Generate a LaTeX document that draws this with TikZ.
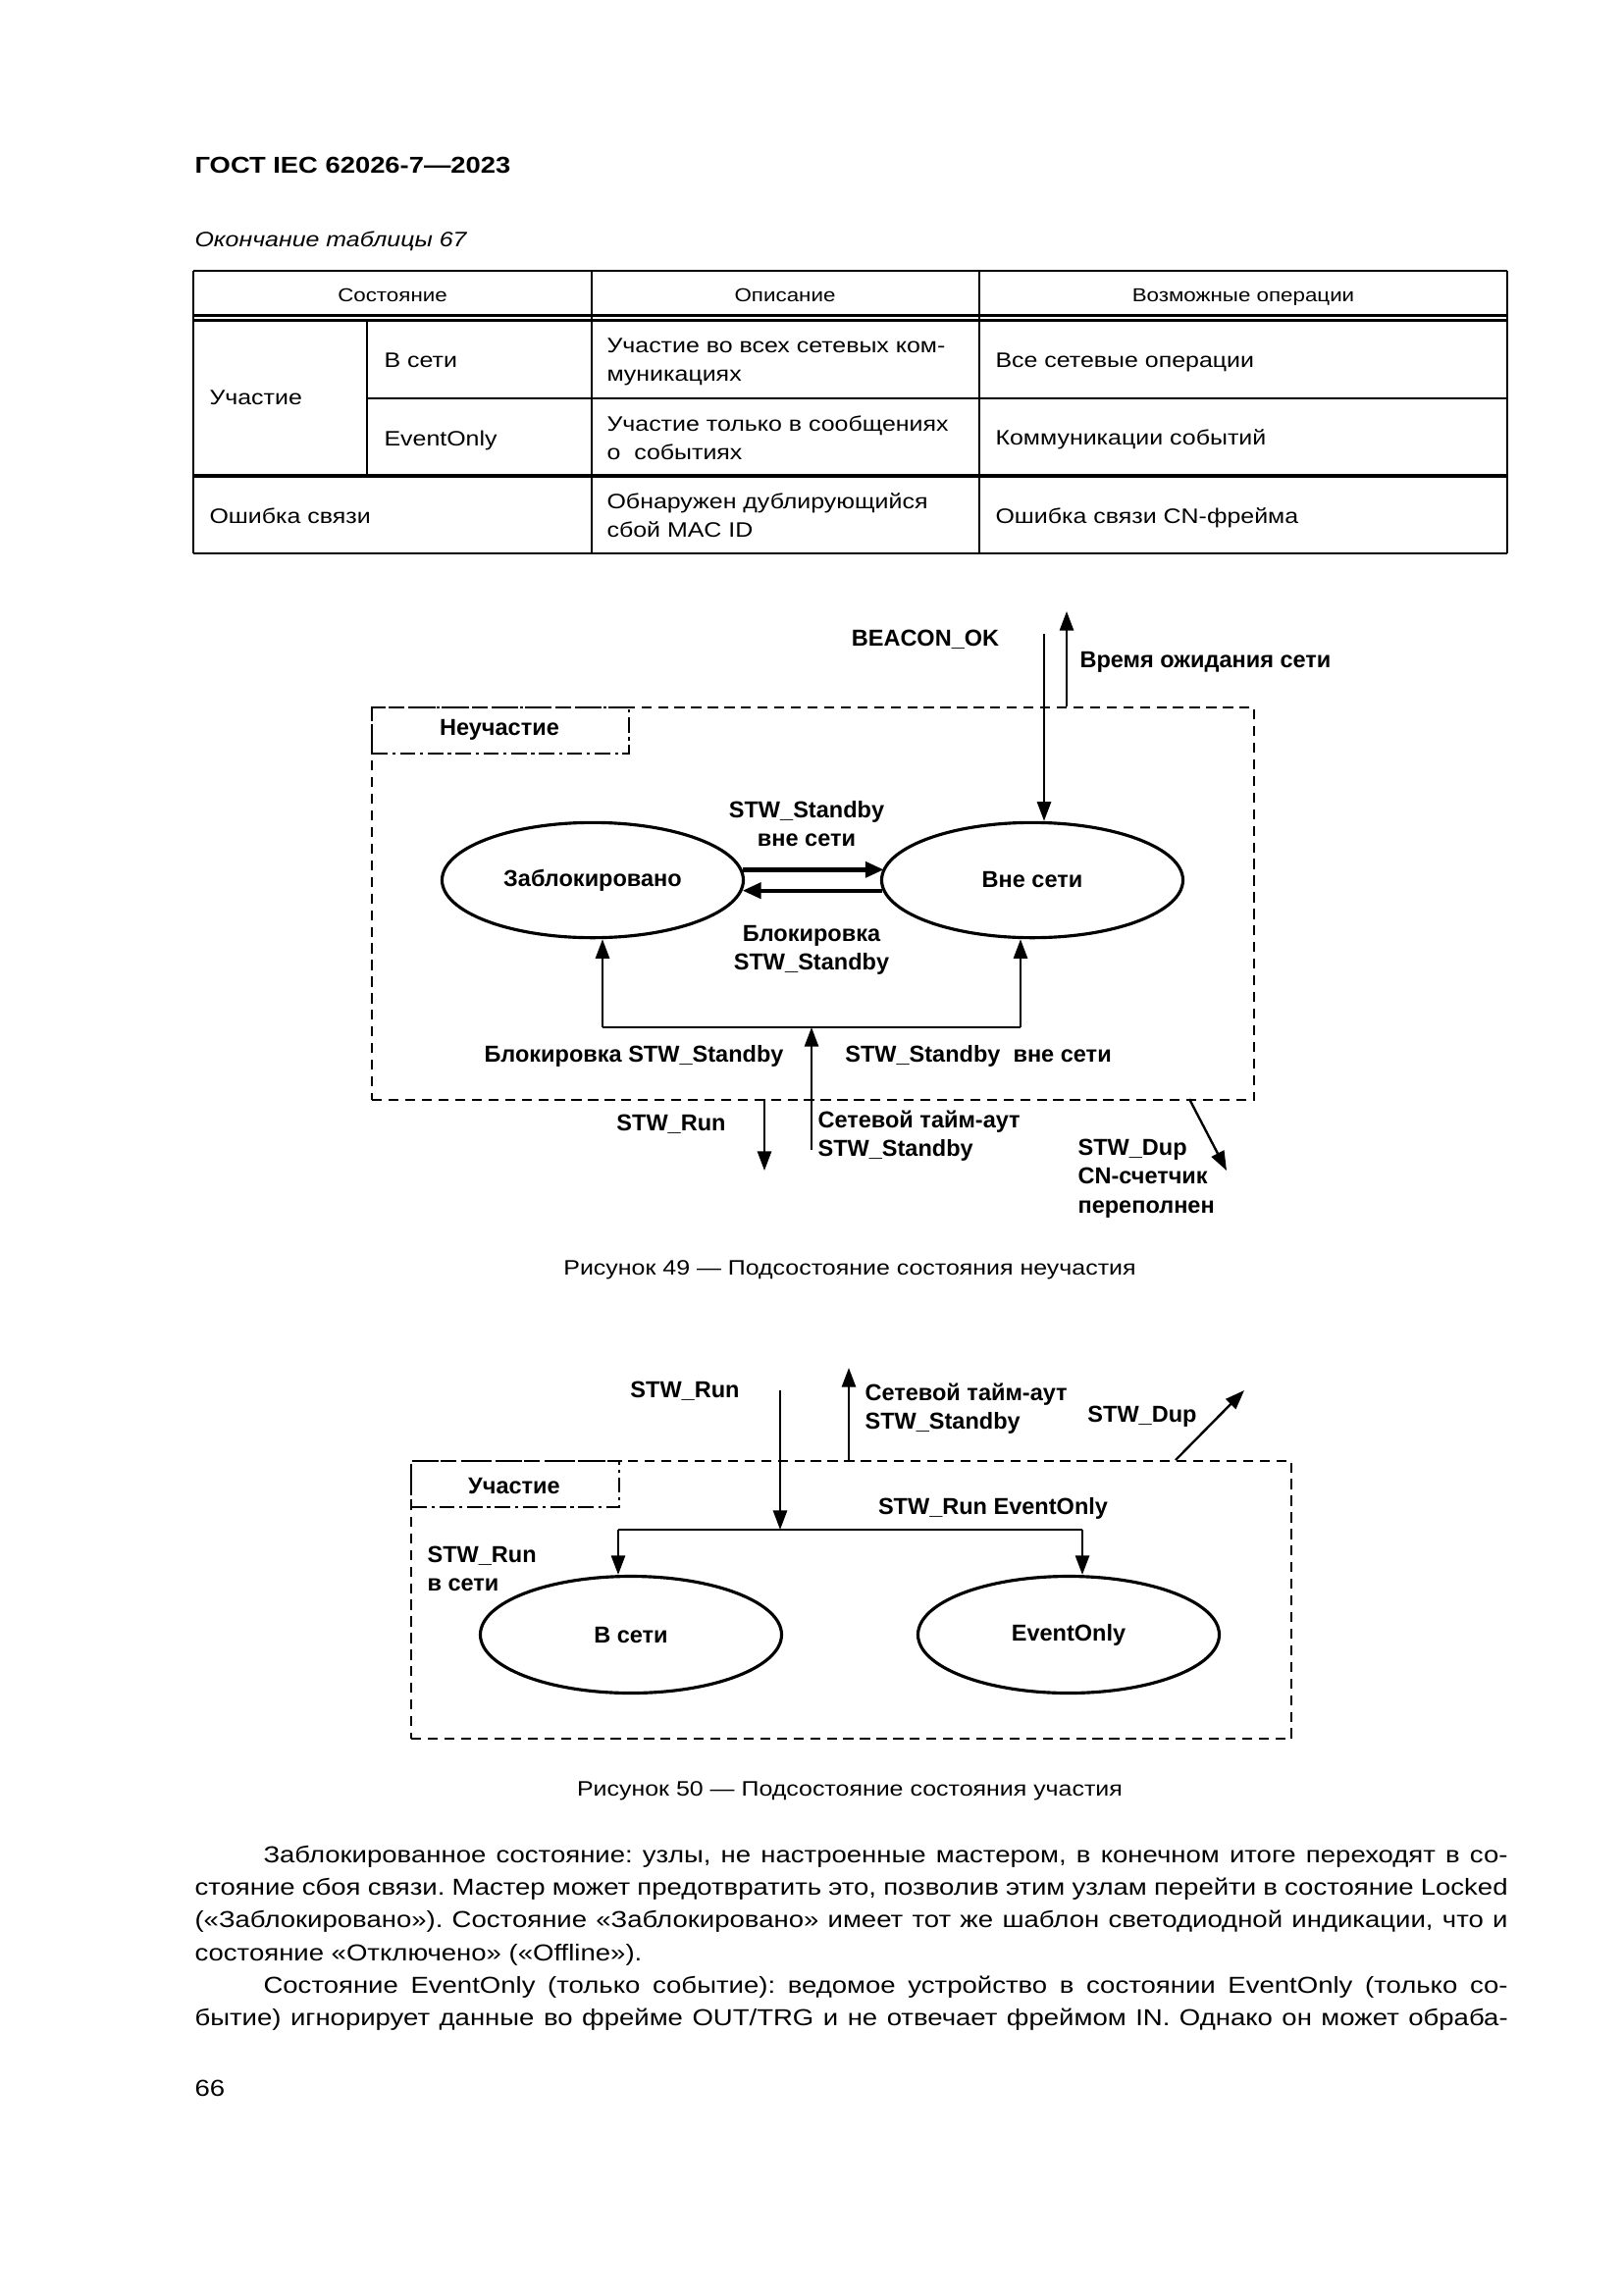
\documentclass[tikz,border=0pt]{standalone}
\usepackage{fontspec}
\setmainfont{Liberation Sans}[FakeStretch=1.17]
\newfontfamily\dfont{Liberation Sans}
\usetikzlibrary{arrows.meta,shapes.geometric,calc}
\newcommand\bodyf{\fontsize{8.5}{12}\selectfont\frenchspacing}
\newcommand\tabf{\fontsize{7.7}{10.8}\selectfont\frenchspacing}
\newcommand\thf{\fontsize{6.9}{10}\selectfont}
\newcommand\diagf{\dfont\bfseries\fontsize{8.5}{10.8}\selectfont}
\newcommand\hdf{\bfseries\fontsize{8.45}{10}\selectfont}
\newlength\fullw \setlength\fullw{169.89mm}
\newlength\indw \setlength\indw{161.0mm}
\newcommand\ctrlines[1]{\begin{tabular}[t]{@{}c@{}}#1\end{tabular}}
\newcommand\lftlines[1]{\begin{tabular}[t]{@{}l@{}}#1\end{tabular}}
\begin{document}
\begin{tikzpicture}[x=0.12697mm,y=-0.12697mm,
  lbl/.style={inner sep=0,font=\diagf},
  tx/.style={inner sep=0,font=\tabf},
  tline/.style={line width=0.28mm},
  state/.style={ellipse,draw,line width=0.4mm,minimum width=38.98mm,minimum height=14.9mm,inner sep=0,font=\diagf},
  conn/.style={line width=0.3mm},
  arr/.style={line width=0.3mm,-{Triangle[length=2.5mm,width=1.8mm]}},
  thk/.style={line width=0.55mm,-{Triangle[length=2.4mm,width=2mm]}},
  dbox/.style={draw,line width=0.3mm,dash pattern=on 1.3mm off 0.85mm,inner sep=0,anchor=north west},
  ddbox/.style={draw,line width=0.3mm,dash pattern=on 2mm off 0.6mm on 0.4mm off 0.6mm,inner sep=0,anchor=north west},
]
\fill[white] (0,0) rectangle (1654,2339);
\useasboundingbox (0,0) rectangle (1654,2339);

% ---------- header ----------
\node[anchor=base west,inner sep=0,font=\hdf] (hdr) at (198,176) {ГОСТ IEC 62026-7—2023};
\node[anchor=base west,inner sep=0,font=\tabf\itshape] (tcap) at (198,251) {Окончание таблицы 67};

% ---------- table ----------
\draw[tline] (197,276) -- (1536,276);
\draw[tline] (197,321.5) -- (1536,321.5);
\draw[tline] (197,326.5) -- (1536,326.5);
\draw[tline] (374,406) -- (1536,406);
\draw[line width=0.42mm] (197,485) -- (1536,485);
\draw[tline] (197,564) -- (1536,564);
\draw[tline] (197,276) -- (197,564);
\draw[tline] (603,276) -- (603,564);
\draw[tline] (998,276) -- (998,564);
\draw[tline] (1536,276) -- (1536,564);
\draw[tline] (374,326.5) -- (374,485);

\node[tx,font=\thf,anchor=base] (h1) at (400,307) {Состояние};
\node[tx,font=\thf,anchor=base] (h2) at (800,307) {Описание};
\node[tx,font=\thf,anchor=base] (h3) at (1267,307) {Возможные операции};
\node[tx,anchor=base west] (c11) at (213,412) {Участие};
\node[tx,anchor=base west] (c12) at (391,374) {В сети};
\node[tx,anchor=base west] (c13) at (391,454) {EventOnly};
\node[tx,anchor=base west] (d1) at (618,359) {\lftlines{Участие во всех сетевых ком-\\муникациях}};
\node[tx,anchor=base west] (d2) at (618,439) {\lftlines{Участие только в сообщениях\\о~ событиях}};
\node[tx,anchor=base west] (d3) at (618,518) {\lftlines{Обнаружен дублирующийся\\сбой MAC ID}};
\node[tx,anchor=base west] (o1) at (1014,374) {Все сетевые операции};
\node[tx,anchor=base west] (o2) at (1014,453) {Коммуникации событий};
\node[tx,anchor=base west] (o3) at (1014,533) {Ошибка связи CN-фрейма};
\node[tx,anchor=base west] (e1) at (213,533) {Ошибка связи};

% ---------- figure 49 ----------
\node[dbox,minimum width=114.15mm,minimum height=50.79mm] (box1) at (378,720) {};
\node[ddbox,minimum width=33.27mm,minimum height=5.97mm] (lab1) at (378,720) {};
\node[lbl,anchor=base] (t1) at (509,749) {Неучастие};

\node[state] (zab) at (604,897) {Заблокировано};
\node[state] (vne) at (1052,897) {Вне сети};

\draw[thk] (zab.4.2) -- (zab.4.2 -| vne.175.8);
\draw[thk] (vne.184.5) -- (vne.184.5 -| zab.-4.5);
\node[lbl,anchor=base] (l1) at (822,833) {\ctrlines{STW\_Standby\\вне сети}};
\node[lbl,anchor=base] (l2) at (827,959) {\ctrlines{Блокировка\\STW\_Standby}};

\coordinate (bl) at (614,1047);
\coordinate (br) at (1040,1047);
\coordinate (bm) at (827,1047);
\coordinate (bin) at (827,1172);
\draw[conn] (bl) -- (br);
\draw[arr] (bl) -- (bl |- zab.south);
\draw[arr] (br) -- (br |- vne.south);
\draw[arr] (bin) -- (bm);
\node[lbl,anchor=base] (l3) at (646,1082) {Блокировка STW\_Standby};
\node[lbl,anchor=base] (l4) at (997,1082) {STW\_Standby~~вне сети};

\coordinate (beac) at (1064,646);
\draw[arr] (beac) -- (beac |- vne.north);
\node[lbl,anchor=base] (l5) at (943,658) {BEACON\_OK};
\coordinate (wt0) at (1087,720);
\coordinate (wt1) at (1087,623);
\draw[arr] (wt0) -- (wt1);
\node[lbl,anchor=base west] (l6) at (1100,680) {Время ожидания сети};

\coordinate (r0) at (779,1120);
\coordinate (r1) at (779,1193);
\draw[arr] (r0) -- (r1);
\node[lbl,anchor=base] (l7) at (684,1152) {STW\_Run};
\node[lbl,anchor=base west] (l8) at (833,1149) {\lftlines{Сетевой тайм-аут\\STW\_Standby}};
\coordinate (d0) at (1212,1120);
\coordinate (d1) at (1250,1193);
\draw[arr] (d0) -- (d1);
\node[lbl,anchor=base west] (l9) at (1098,1177) {\lftlines{STW\_Dup\\CN-счетчик\\переполнен}};

\node[tx,anchor=base] (cap1) at (866,1299) {Рисунок 49 — Подсостояние состояния неучастия};

% ---------- figure 50 ----------
\node[dbox,minimum width=113.89mm,minimum height=35.93mm] (box2) at (418,1488) {};
\node[ddbox,minimum width=26.92mm,minimum height=5.97mm] (lab2) at (418,1488) {};
\node[lbl,anchor=base] (t2) at (524,1522) {Участие};

\node[state,minimum height=15.11mm] (vs) at (643,1666) {В сети};
\node[state,minimum height=15.11mm] (eo) at (1089,1666) {EventOnly};

\coordinate (s0) at (795,1417);
\coordinate (sm) at (795,1559);
\coordinate (sl) at (630,1559);
\coordinate (sr) at (1103,1559);
\draw[arr] (s0) -- (sm);
\draw[conn] (sl) -- (sr);
\draw[arr] (sl) -- (sl |- vs.north);
\draw[arr] (sr) -- (sr |- eo.north);
\node[lbl,anchor=base] (m1) at (698,1424) {STW\_Run};
\node[lbl,anchor=base] (m2) at (1012,1543) {STW\_Run EventOnly};
\node[lbl,anchor=base west] (m3) at (435,1592) {\lftlines{STW\_Run\\в сети}};

\coordinate (u0) at (865,1488);
\coordinate (u1) at (865,1394);
\draw[arr] (u0) -- (u1);
\node[lbl,anchor=base west] (m4) at (881,1427) {\lftlines{Сетевой тайм-аут\\STW\_Standby}};
\coordinate (g0) at (1198,1488);
\coordinate (g1) at (1268,1417);
\draw[arr] (g0) -- (g1);
\node[lbl,anchor=base] (m5) at (1164,1449) {STW\_Dup};

\node[tx,anchor=base] (cap2) at (866,1830) {Рисунок 50 — Подсостояние состояния участия};

% ---------- body text ----------
\node[anchor=base west,inner sep=0,font=\bodyf] (p1) at (268,1898) {\hbox to \indw{Заблокированное состояние: узлы, не настроенные мастером, в конечном итоге переходят в со-}};
\node[anchor=base west,inner sep=0,font=\bodyf] (p2) at (198,1931.4) {\hbox to \fullw{стояние сбоя связи. Мастер может предотвратить это, позволив этим узлам перейти в состояние Locked}};
\node[anchor=base west,inner sep=0,font=\bodyf] (p3) at (198,1964.7) {\hbox to \fullw{(«Заблокировано»). Состояние «Заблокировано» имеет тот же шаблон светодиодной индикации, что и}};
\node[anchor=base west,inner sep=0,font=\bodyf] (p4) at (198,1998) {состояние «Отключено» («Offline»).};
\node[anchor=base west,inner sep=0,font=\bodyf] (p5) at (268,2031.3) {\hbox to \indw{Состояние EventOnly (только событие): ведомое устройство в состоянии EventOnly (только со-}};
\node[anchor=base west,inner sep=0,font=\bodyf] (p6) at (198,2064.6) {\hbox to \fullw{бытие) игнорирует данные во фрейме OUT/TRG и не отвечает фреймом IN. Однако он может обраба-}};
\node[anchor=base west,inner sep=0,font=\bodyf] (pn) at (198,2136) {66};
\end{tikzpicture}
\end{document}
